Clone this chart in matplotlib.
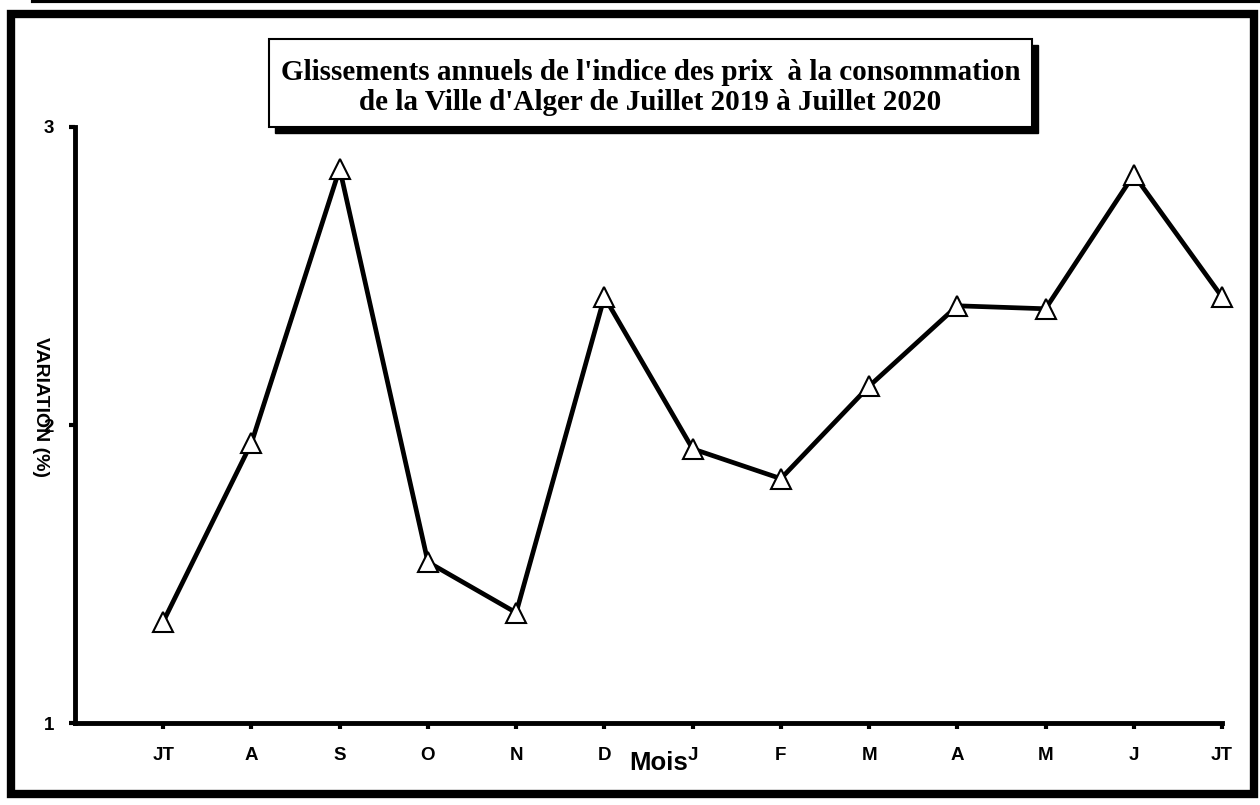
import matplotlib.pyplot as plt
from matplotlib.patches import Rectangle
from matplotlib.lines import Line2D

# ---- données ----
mois = ["JT", "A", "S", "O", "N", "D", "J", "F", "M", "A", "M", "J", "JT"]
variation = [1.34, 1.94, 2.86, 1.54, 1.37, 2.43, 1.92, 1.82, 2.13, 2.40, 2.39, 2.84, 2.43]
y_ticks = [1, 2, 3]

fig = plt.figure(figsize=(12.6, 8.05), dpi=100)
ax = fig.add_axes([75 / 1260, 82 / 805, 1147 / 1260, 596 / 805])

x = list(range(1, len(mois) + 1))
ax.plot(x, variation, color="black", linewidth=3.4, marker="^", markersize=15,
        markerfacecolor="white", markeredgecolor="black", markeredgewidth=1.5,
        clip_on=False, zorder=3)

ax.set_xlim(0, len(mois))
ax.set_ylim(1, 3)
ax.set_xticks(x)
ax.set_xticklabels(mois, fontfamily="Liberation Sans", fontweight="bold", fontsize=13.5)
ax.set_yticks(y_ticks)
ax.set_yticklabels([str(v) for v in y_ticks], fontfamily="Liberation Sans",
                   fontweight="bold", fontsize=13.5)
ax.tick_params(axis="both", direction="out", length=4, width=3)
ax.tick_params(axis="x", pad=13)
ax.tick_params(axis="y", pad=11)

for s in ["top", "right"]:
    ax.spines[s].set_visible(False)
for s in ["left", "bottom"]:
    ax.spines[s].set_linewidth(3.5)

ax.set_xlabel("Mois", fontfamily="Liberation Sans", fontweight="bold", fontsize=18.5,
              va="center")
ax.xaxis.set_label_coords(0.509, -0.067)
ax.set_ylabel("VARIATION (%)", fontfamily="Liberation Sans", fontweight="bold",
              fontsize=14, rotation=-90, va="center")
ax.yaxis.set_label_coords(-0.0305, 0.53)

# ---- titre dans un cadre avec ombre ----
bx, by, bw, bh = 269 / 1260, 1 - 127 / 805, 763 / 1260, 88 / 805
fig.patches.append(Rectangle((bx + 6 / 1260, by - 6 / 805), bw, bh, transform=fig.transFigure,
                             facecolor="black", edgecolor="black", zorder=1))
fig.patches.append(Rectangle((bx, by), bw, bh, transform=fig.transFigure,
                             facecolor="white", edgecolor="black", linewidth=1.5, zorder=2))
titre = ["Glissements annuels de l'indice des prix  à la consommation",
         "de la Ville d'Alger de Juillet 2019 à Juillet 2020"]
for i, ligne in enumerate(titre):
    fig.text(bx + bw / 2, 1 - (72 + 31 * i) / 805, ligne,
             ha="center", va="center", fontfamily="Liberation Serif", fontweight="bold",
             fontsize=21, zorder=3)

# ---- cadre extérieur ----
fig.patches.append(Rectangle((11 / 1260, 1 - 794 / 805), 1243 / 1260, 780 / 805,
                             transform=fig.transFigure, fill=False,
                             edgecolor="black", linewidth=6))
fig.lines.append(Line2D([33 / 1260, 1], [1 - 1.5 / 805, 1 - 1.5 / 805],
                        transform=fig.transFigure, color="black", linewidth=3))

plt.savefig("out.png", dpi=100)
